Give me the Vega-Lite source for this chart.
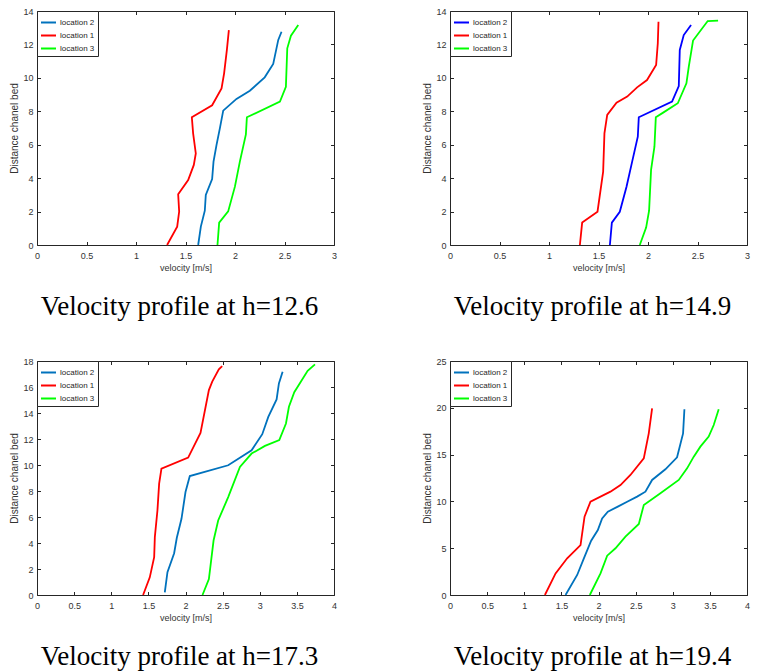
{
  "$schema": "https://vega.github.io/schema/vega-lite/v6.json",
  "background": "white",
  "padding": {"left": 9, "top": 7, "right": 5, "bottom": 5},
  "datasets": {
    "p1": [
      {"s":"location 1","v":1.314,"d":0},{"s":"location 1","v":1.416,"d":1.1},{"s":"location 1","v":1.436,"d":2.0},{"s":"location 1","v":1.426,"d":3.03},{"s":"location 1","v":1.527,"d":3.89},{"s":"location 1","v":1.584,"d":4.79},{"s":"location 1","v":1.604,"d":5.48},{"s":"location 1","v":1.577,"d":6.68},{"s":"location 1","v":1.564,"d":7.64},{"s":"location 1","v":1.769,"d":8.36},{"s":"location 1","v":1.864,"d":9.37},{"s":"location 1","v":1.89,"d":10.27},{"s":"location 1","v":1.918,"d":11.67},{"s":"location 1","v":1.938,"d":12.86},
      {"s":"location 2","v":1.628,"d":0},{"s":"location 2","v":1.655,"d":1.1},{"s":"location 2","v":1.695,"d":2.05},{"s":"location 2","v":1.705,"d":2.99},{"s":"location 2","v":1.769,"d":3.95},{"s":"location 2","v":1.783,"d":4.99},{"s":"location 2","v":1.813,"d":5.98},{"s":"location 2","v":1.847,"d":6.98},{"s":"location 2","v":1.881,"d":8.04},{"s":"location 2","v":2.015,"d":8.74},{"s":"location 2","v":2.15,"d":9.23},{"s":"location 2","v":2.30,"d":10.03},{"s":"location 2","v":2.386,"d":10.83},{"s":"location 2","v":2.437,"d":12.27},{"s":"location 2","v":2.47,"d":12.76},
      {"s":"location 3","v":1.823,"d":0},{"s":"location 3","v":1.84,"d":1.34},{"s":"location 3","v":1.931,"d":2.01},{"s":"location 3","v":1.999,"d":3.49},{"s":"location 3","v":2.049,"d":4.99},{"s":"location 3","v":2.11,"d":6.62},{"s":"location 3","v":2.12,"d":7.64},{"s":"location 3","v":2.454,"d":8.58},{"s":"location 3","v":2.514,"d":9.47},{"s":"location 3","v":2.528,"d":11.77},{"s":"location 3","v":2.565,"d":12.52},{"s":"location 3","v":2.639,"d":13.16}
    ],
    "p2": [
      {"s":"location 1","v":1.312,"d":0},{"s":"location 1","v":1.335,"d":1.34},{"s":"location 1","v":1.49,"d":1.99},{"s":"location 1","v":1.547,"d":4.39},{"s":"location 1","v":1.56,"d":6.68},{"s":"location 1","v":1.588,"d":7.78},{"s":"location 1","v":1.682,"d":8.52},{"s":"location 1","v":1.79,"d":8.88},{"s":"location 1","v":1.89,"d":9.43},{"s":"location 1","v":1.99,"d":9.87},{"s":"location 1","v":2.082,"d":10.77},{"s":"location 1","v":2.099,"d":12.07},{"s":"location 1","v":2.106,"d":13.36},
      {"s":"location 2","v":1.615,"d":0},{"s":"location 2","v":1.635,"d":1.34},{"s":"location 2","v":1.715,"d":1.99},{"s":"location 2","v":1.783,"d":3.49},{"s":"location 2","v":1.84,"d":4.99},{"s":"location 2","v":1.897,"d":6.48},{"s":"location 2","v":1.907,"d":7.64},{"s":"location 2","v":2.243,"d":8.58},{"s":"location 2","v":2.311,"d":9.51},{"s":"location 2","v":2.321,"d":11.67},{"s":"location 2","v":2.361,"d":12.56},{"s":"location 2","v":2.435,"d":13.16},
      {"s":"location 3","v":1.917,"d":0},{"s":"location 3","v":1.981,"d":1.04},{"s":"location 3","v":2.011,"d":2.05},{"s":"location 3","v":2.031,"d":4.49},{"s":"location 3","v":2.065,"d":5.88},{"s":"location 3","v":2.079,"d":7.64},{"s":"location 3","v":2.153,"d":7.92},{"s":"location 3","v":2.301,"d":8.48},{"s":"location 3","v":2.388,"d":9.67},{"s":"location 3","v":2.412,"d":10.67},{"s":"location 3","v":2.455,"d":12.23},{"s":"location 3","v":2.603,"d":13.40},{"s":"location 3","v":2.708,"d":13.42}
    ],
    "p3": [
      {"s":"location 1","v":1.429,"d":0},{"s":"location 1","v":1.519,"d":1.36},{"s":"location 1","v":1.578,"d":2.91},{"s":"location 1","v":1.587,"d":4.45},{"s":"location 1","v":1.622,"d":6.5},{"s":"location 1","v":1.645,"d":8.56},{"s":"location 1","v":1.676,"d":9.72},{"s":"location 1","v":2.036,"d":10.57},{"s":"location 1","v":2.202,"d":12.47},{"s":"location 1","v":2.315,"d":15.76},{"s":"location 1","v":2.36,"d":16.41},{"s":"location 1","v":2.449,"d":17.36},{"s":"location 1","v":2.494,"d":17.61},
      {"s":"location 2","v":1.721,"d":0.2},{"s":"location 2","v":1.757,"d":1.75},{"s":"location 2","v":1.847,"d":3.21},{"s":"location 2","v":1.883,"d":4.4},{"s":"location 2","v":1.946,"d":5.86},{"s":"location 2","v":2.0,"d":7.92},{"s":"location 2","v":2.058,"d":9.15},{"s":"location 2","v":2.575,"d":9.98},{"s":"location 2","v":2.89,"d":11.13},{"s":"location 2","v":3.034,"d":12.37},{"s":"location 2","v":3.115,"d":13.7},{"s":"location 2","v":3.227,"d":15.04},{"s":"location 2","v":3.258,"d":16.28},{"s":"location 2","v":3.308,"d":17.18},
      {"s":"location 3","v":2.229,"d":0},{"s":"location 3","v":2.315,"d":1.23},{"s":"location 3","v":2.378,"d":4.19},{"s":"location 3","v":2.44,"d":5.73},{"s":"location 3","v":2.575,"d":7.53},{"s":"location 3","v":2.733,"d":9.85},{"s":"location 3","v":2.89,"d":10.88},{"s":"location 3","v":3.07,"d":11.47},{"s":"location 3","v":3.263,"d":11.91},{"s":"location 3","v":3.353,"d":13.19},{"s":"location 3","v":3.393,"d":14.48},{"s":"location 3","v":3.465,"d":15.6},{"s":"location 3","v":3.645,"d":17.25},{"s":"location 3","v":3.744,"d":17.74}
    ],
    "p4": [
      {"s":"location 1","v":1.278,"d":0},{"s":"location 1","v":1.422,"d":2.31},{"s":"location 1","v":1.578,"d":3.92},{"s":"location 1","v":1.758,"d":5.34},{"s":"location 1","v":1.812,"d":8.37},{"s":"location 1","v":1.892,"d":9.97},{"s":"location 1","v":2.161,"d":11.04},{"s":"location 1","v":2.296,"d":11.75},{"s":"location 1","v":2.43,"d":12.82},{"s":"location 1","v":2.61,"d":14.6},{"s":"location 1","v":2.677,"d":17.27},{"s":"location 1","v":2.722,"d":19.94},
      {"s":"location 2","v":1.556,"d":0},{"s":"location 2","v":1.713,"d":2.14},{"s":"location 2","v":1.803,"d":3.92},{"s":"location 2","v":1.901,"d":5.8},{"s":"location 2","v":1.991,"d":6.94},{"s":"location 2","v":2.049,"d":8.19},{"s":"location 2","v":2.126,"d":8.9},{"s":"location 2","v":2.26,"d":9.44},{"s":"location 2","v":2.386,"d":9.97},{"s":"location 2","v":2.52,"d":10.51},{"s":"location 2","v":2.632,"d":11.04},{"s":"location 2","v":2.722,"d":12.29},{"s":"location 2","v":2.901,"d":13.43},{"s":"location 2","v":3.058,"d":14.71},{"s":"location 2","v":3.139,"d":17.27},{"s":"location 2","v":3.157,"d":19.84},
      {"s":"location 3","v":1.883,"d":0},{"s":"location 3","v":2.027,"d":2.31},{"s":"location 3","v":2.117,"d":4.2},{"s":"location 3","v":2.229,"d":4.99},{"s":"location 3","v":2.363,"d":6.23},{"s":"location 3","v":2.543,"d":7.59},{"s":"location 3","v":2.61,"d":9.62},{"s":"location 3","v":2.834,"d":10.86},{"s":"location 3","v":3.081,"d":12.29},{"s":"location 3","v":3.193,"d":13.53},{"s":"location 3","v":3.283,"d":14.78},{"s":"location 3","v":3.372,"d":15.85},{"s":"location 3","v":3.484,"d":16.92},{"s":"location 3","v":3.552,"d":18.16},{"s":"location 3","v":3.619,"d":19.84}
    ]
  },
  "columns": 2,
  "bounds": "flush",
  "spacing": {"row": 116, "column": 116},
  "resolve": {"scale": {"x": "independent", "y": "independent", "color": "independent"}, "legend": {"color": "independent"}},
  "concat": [
    {
      "data": {"name": "p1"}, "width": 297, "height": 234,
      "title": {"text": "Velocity profile at h=12.6"},
      "layer": [
        {"mark": {"type": "line", "strokeWidth": 1.8},
         "encoding": {
           "x": {"field": "v", "type": "quantitative", "scale": {"domain": [0, 3], "nice": false}, "axis": {"title": "velocity [m/s]", "values": [0,0.5,1,1.5,2,2.5,3], "format": "~g"}},
           "y": {"field": "d", "type": "quantitative", "scale": {"domain": [0, 14], "nice": false}, "axis": {"title": "Distance chanel bed", "values": [0,2,4,6,8,10,12,14], "format": "~g"}},
           "color": {"field": "s", "type": "nominal", "scale": {"domain": ["location 2", "location 1", "location 3"], "range": ["#0072BD", "#FF0000", "#00FF00"]}, "legend": {"title": null}},
           "order": {"field": "d", "type": "quantitative"}
         }},
        {"mark": {"type": "point", "opacity": 0},
         "encoding": {
           "x": {"field": "v", "type": "quantitative", "axis": {"orient": "top", "labels": false, "title": null, "values": [0,0.5,1,1.5,2,2.5,3]}},
           "y": {"field": "d", "type": "quantitative", "axis": {"orient": "right", "labels": false, "title": null, "values": [0,2,4,6,8,10,12,14]}}
         }}
      ],
      "resolve": {"axis": {"x": "independent", "y": "independent"}}
    },
    {
      "data": {"name": "p2"}, "width": 297, "height": 234,
      "title": {"text": "Velocity profile at h=14.9"},
      "layer": [
        {"mark": {"type": "line", "strokeWidth": 1.8},
         "encoding": {
           "x": {"field": "v", "type": "quantitative", "scale": {"domain": [0, 3], "nice": false}, "axis": {"title": "velocity [m/s]", "values": [0,0.5,1,1.5,2,2.5,3], "format": "~g"}},
           "y": {"field": "d", "type": "quantitative", "scale": {"domain": [0, 14], "nice": false}, "axis": {"title": "Distance chanel bed", "values": [0,2,4,6,8,10,12,14], "format": "~g"}},
           "color": {"field": "s", "type": "nominal", "scale": {"domain": ["location 2", "location 1", "location 3"], "range": ["#0000FF", "#FF0000", "#00FF00"]}, "legend": {"title": null}},
           "order": {"field": "d", "type": "quantitative"}
         }},
        {"mark": {"type": "point", "opacity": 0},
         "encoding": {
           "x": {"field": "v", "type": "quantitative", "axis": {"orient": "top", "labels": false, "title": null, "values": [0,0.5,1,1.5,2,2.5,3]}},
           "y": {"field": "d", "type": "quantitative", "axis": {"orient": "right", "labels": false, "title": null, "values": [0,2,4,6,8,10,12,14]}}
         }}
      ],
      "resolve": {"axis": {"x": "independent", "y": "independent"}}
    },
    {
      "data": {"name": "p3"}, "width": 297, "height": 234,
      "title": {"text": "Velocity profile at h=17.3"},
      "layer": [
        {"mark": {"type": "line", "strokeWidth": 1.8},
         "encoding": {
           "x": {"field": "v", "type": "quantitative", "scale": {"domain": [0, 4], "nice": false}, "axis": {"title": "velocity [m/s]", "values": [0,0.5,1,1.5,2,2.5,3,3.5,4], "format": "~g"}},
           "y": {"field": "d", "type": "quantitative", "scale": {"domain": [0, 18], "nice": false}, "axis": {"title": "Distance chanel bed", "values": [0,2,4,6,8,10,12,14,16,18], "format": "~g"}},
           "color": {"field": "s", "type": "nominal", "scale": {"domain": ["location 2", "location 1", "location 3"], "range": ["#0072BD", "#FF0000", "#00FF00"]}, "legend": {"title": null}},
           "order": {"field": "d", "type": "quantitative"}
         }},
        {"mark": {"type": "point", "opacity": 0},
         "encoding": {
           "x": {"field": "v", "type": "quantitative", "axis": {"orient": "top", "labels": false, "title": null, "values": [0,0.5,1,1.5,2,2.5,3,3.5,4]}},
           "y": {"field": "d", "type": "quantitative", "axis": {"orient": "right", "labels": false, "title": null, "values": [0,2,4,6,8,10,12,14,16,18]}}
         }}
      ],
      "resolve": {"axis": {"x": "independent", "y": "independent"}}
    },
    {
      "data": {"name": "p4"}, "width": 297, "height": 234,
      "title": {"text": "Velocity profile at h=19.4"},
      "layer": [
        {"mark": {"type": "line", "strokeWidth": 1.8},
         "encoding": {
           "x": {"field": "v", "type": "quantitative", "scale": {"domain": [0, 4], "nice": false}, "axis": {"title": "velocity [m/s]", "values": [0,0.5,1,1.5,2,2.5,3,3.5,4], "format": "~g"}},
           "y": {"field": "d", "type": "quantitative", "scale": {"domain": [0, 25], "nice": false}, "axis": {"title": "Distance chanel bed", "values": [0,5,10,15,20,25], "format": "~g"}},
           "color": {"field": "s", "type": "nominal", "scale": {"domain": ["location 2", "location 1", "location 3"], "range": ["#0072BD", "#FF0000", "#00FF00"]}, "legend": {"title": null}},
           "order": {"field": "d", "type": "quantitative"}
         }},
        {"mark": {"type": "point", "opacity": 0},
         "encoding": {
           "x": {"field": "v", "type": "quantitative", "axis": {"orient": "top", "labels": false, "title": null, "values": [0,0.5,1,1.5,2,2.5,3,3.5,4]}},
           "y": {"field": "d", "type": "quantitative", "axis": {"orient": "right", "labels": false, "title": null, "values": [0,5,10,15,20,25]}}
         }}
      ],
      "resolve": {"axis": {"x": "independent", "y": "independent"}}
    }
  ],
  "config": {
    "view": {"stroke": null},
    "font": "Liberation Sans",
    "axis": {"grid": false, "domainColor": "#262626", "tickColor": "#262626", "labelColor": "#333333", "titleColor": "#333333", "labelFont": "Liberation Sans", "titleFont": "Liberation Sans", "labelFontSize": 9, "titleFontSize": 9, "titleFontWeight": "normal", "tickSize": -3.5, "labelFlush": false, "labelOverlap": false},
    "axisX": {"labelPadding": 10, "titlePadding": 3},
    "axisY": {"labelPadding": 7.5, "titlePadding": 3, "titleFontSize": 10},
    "legend": {"orient": "top-left", "offset": 0, "padding": 3, "strokeColor": "#262626", "fillColor": "white", "symbolType": "stroke", "symbolSize": 225, "symbolStrokeWidth": 2, "labelFont": "Liberation Sans", "labelFontSize": 8, "labelColor": "#262626", "rowPadding": 0, "labelOffset": 3, "cornerRadius": 0},
    "title": {"orient": "bottom", "font": "Liberation Serif", "fontSize": 27, "fontWeight": "normal", "color": "#000000", "anchor": "middle", "frame": "group", "offset": 21, "dx": -6}
  }
}
